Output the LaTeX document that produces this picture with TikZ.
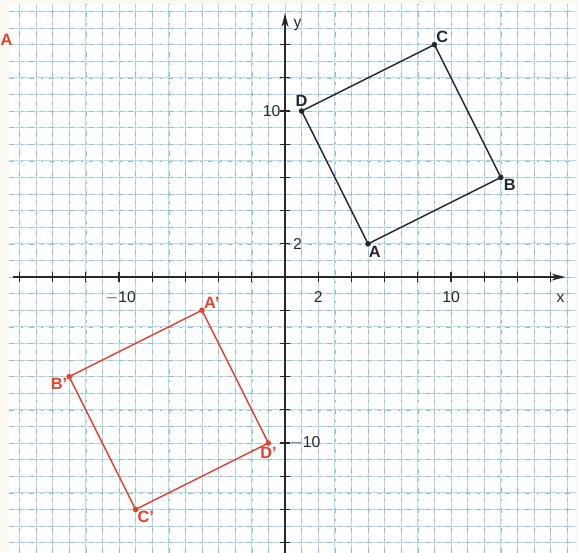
\documentclass[tikz,border=0pt]{standalone}
\usepackage{fontspec}
\setmainfont{Liberation Sans}
\usetikzlibrary{arrows.meta}
\definecolor{paper}{RGB}{252,250,240}
\definecolor{gridlight}{RGB}{180,222,238}
\definecolor{griddark}{RGB}{70,140,200}
\definecolor{imgred}{RGB}{232,64,42}
\definecolor{ink}{RGB}{40,40,40}

\begin{document}
\begin{tikzpicture}[
    x=0.5cm, y=0.5cm,
    >={Stealth[length=12pt, width=6pt]},
    gridlight/.style={draw=gridlight, line width=0.8pt, step=1},
    griddash/.style={draw=griddark!60, line width=0.5pt, step=1, dash pattern=on 4pt off 6pt on 2pt off 5pt},
    axis/.style={->, ink, line width=1.4pt},
    tick/.style={ink, line width=1pt},
    lbl/.style={font=\fontsize{13.5}{15}\selectfont, text=ink, inner sep=1pt},
    ptlbl/.style={font=\fontsize{14}{16}\selectfont\bfseries, inner sep=1.5pt},
    origfig/.style={draw=ink, line width=1.2pt},
    imgfig/.style={draw=imgred, line width=1.2pt}
]

% 1. paper and grid
\useasboundingbox[fill=paper] (-17.17,-16.57) rectangle (17.71,16.69);
\fill[white] (-16.6,-16.6) rectangle (17.5,16.45);
\draw[gridlight] (-16.6,-16.6) grid (17.5,16.45);
\draw[griddash] (-16.6,-16.6) grid (17.5,16.45);

% 2. axes
\coordinate (xstart) at (-16.4,0);
\coordinate (xend) at (16.9,0);
\coordinate (ystart) at (0,-16.6);
\coordinate (yend) at (0,15.9);
\draw[axis] (xstart) -- (xend);
\draw[axis] (ystart) -- (yend);
\foreach \k in {-16,-14,...,16} {
    \ifnum\k=0\else \draw[tick] (\k,-0.3) -- (\k,0.3); \fi
}
\foreach \k in {-16,-14,...,14} {
    \ifnum\k=0\else \draw[tick] (-0.3,\k) -- (0.3,\k); \fi
}
\node[lbl] (xm10) at (-9.9,-1.25) {$-$10};
\node[lbl] (x2) at (2,-1.2) {2};
\node[lbl] (x10) at (10,-1.2) {10};
\node[lbl] (xlab) at (16.6,-1.3) {x};
\node[lbl] (ylab) at (0.75,15.2) {y};
\node[lbl, anchor=east] (y10) at (-0.2,10) {10};
\node[lbl] (y2) at (0.75,2) {2};
\node[lbl, anchor=west] (ym10) at (0.2,-10) {$-$10};

% 3. square ABCD
\coordinate (A) at (5,2);
\coordinate (B) at (13,6);
\coordinate (C) at (9,14);
\coordinate (D) at (1,10);
\draw[origfig] (A) -- (B) -- (C) -- (D) -- cycle;
\foreach \p in {A,B,C,D} \fill[ink] (\p) circle (2.4pt);
\node[ptlbl, text=ink, anchor=north west] (labA) at ([xshift=-1pt]A) {A};
\node[ptlbl, text=ink, anchor=north west] (labB) at ([xshift=1pt]B) {B};
\node[ptlbl, text=ink, anchor=south west] (labC) at (C) {C};
\node[ptlbl, text=ink, anchor=south] (labD) at ([yshift=2pt]D) {D};

% 4. image A'B'C'D'
\coordinate (A') at (-5,-2);
\coordinate (B') at (-13,-6);
\coordinate (C') at (-9,-14);
\coordinate (D') at (-1,-10);
\draw[imgfig] (A') -- (B') -- (C') -- (D') -- cycle;
\foreach \p in {A',B',C',D'} \fill[imgred] (\p) circle (2.4pt);
\node[ptlbl, text=imgred, anchor=south west] (labA') at (A') {A'};
\node[ptlbl, text=imgred, anchor=north east] (labB') at (B') {B'};
\node[ptlbl, text=imgred, anchor=north west] (labC') at (C') {C'};
\node[ptlbl, text=imgred, anchor=north] (labD') at ([yshift=-2pt]D') {D'};

% 5. red letter at the left edge
\node[ptlbl, text=imgred, anchor=west, inner sep=0pt] (edgeA) at (-17.15,14.3) {A};

\end{tikzpicture}
\end{document}
